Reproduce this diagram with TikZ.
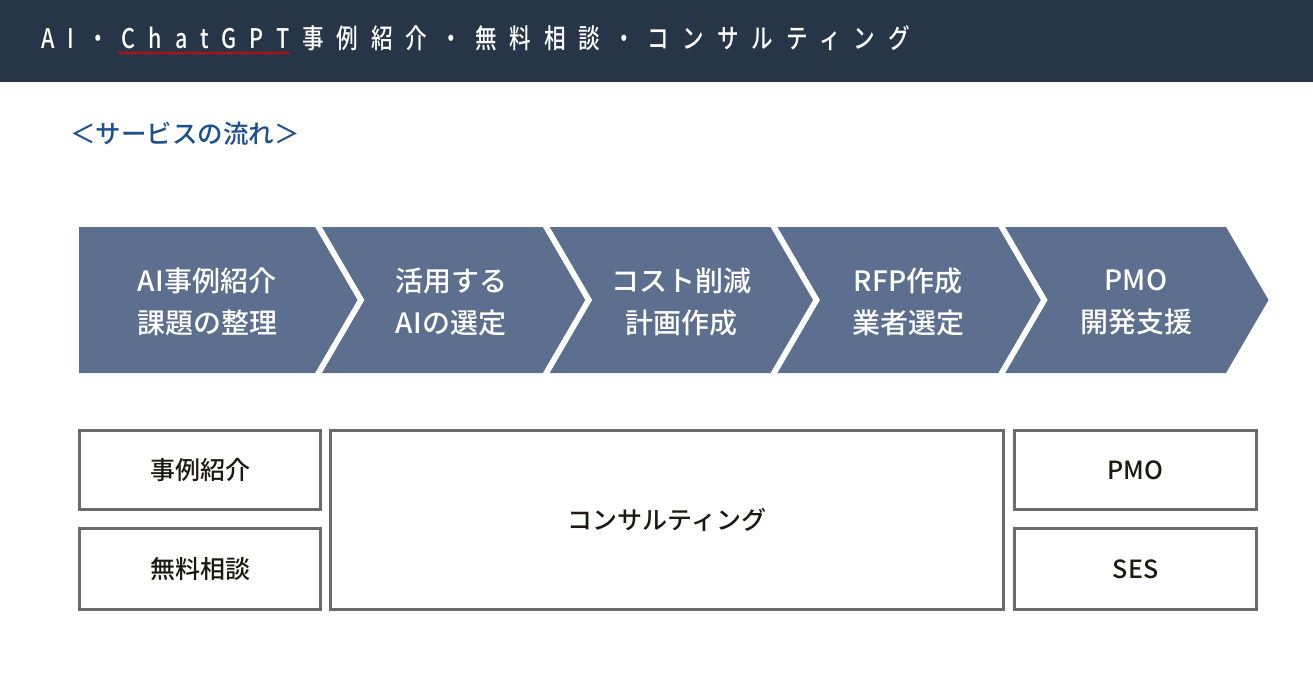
\documentclass[tikz,border=0pt]{standalone}
\usepackage{fontspec}
\setmainfont{Noto Sans CJK JP}[UprightFont=* Medium]
\newfontfamily\headfont[FakeStretch=0.8,LetterSpace=48,UprightFont=* Medium]{Noto Sans CJK JP}
\usetikzlibrary{positioning,decorations.pathmorphing}

\definecolor{headnavy}{HTML}{263548}
\definecolor{chevblue}{HTML}{5D6F8E}
\definecolor{titleblue}{HTML}{1B4F8F}
\definecolor{boxgray}{HTML}{6B6B6B}
\definecolor{boxtext}{HTML}{1C1A10}

\begin{document}
\begin{tikzpicture}[x=1pt, y=-1pt,
  stagetext/.style={align=center, text=white, font=\fontsize{28}{42}\selectfont, inner sep=0pt},
  svcbox/.style={draw=boxgray, line width=3pt, fill=white, text=boxtext, font=\fontsize{25}{30}\selectfont},
  chev/.style={fill=chevblue}
]
\useasboundingbox (0,0) rectangle (1313,693);

% header bar
\fill[headnavy] (0,0) rectangle (1313,82);
\node[anchor=west, inner sep=0pt, text=white, font=\headfont\fontsize{27}{30}\selectfont] (head) at (41,38.5)
  {AI・ChatGPT事例紹介・無料相談・コンサルティング};
\draw[red, line width=0.6pt, decorate, decoration={zigzag, amplitude=1.2pt, segment length=3pt}] (118,53) -- (290,53);

% subtitle
\node[anchor=west, inner sep=0pt, text=titleblue, font=\fontsize{25.5}{30}\selectfont] (flow) at (70,134) {＜サービスの流れ＞};

% chevrons
\fill[chev] (79,227) -- (315,227) -- (357.5,300) -- (315,373) -- (79,373) -- cycle;
\foreach \i in {1,...,4} {
  \pgfmathsetmacro{\lx}{315+227.75*(\i-1)+7}
  \pgfmathsetmacro{\rx}{315+227.75*\i}
  \fill[chev] (\lx,227) -- (\rx,227) -- ({\rx+42.5},300) -- (\rx,373) -- (\lx,373) -- ({\lx+42.5},300) -- cycle;
}

\node[stagetext] (s1) at (207,302) {AI事例紹介\\課題の整理};
\node[stagetext] (s2) at (451,302) {活用する\\AIの選定};
\node[stagetext] (s3) at (681,302) {コスト削減\\計画作成};
\node[stagetext] (s4) at (908,302) {RFP作成\\業者選定};
\node[stagetext] (s5) at (1136,302) {PMO\\開発支援};

% services
\node[svcbox, minimum width=241pt, minimum height=79pt] (case) at (200,470) {事例紹介};
\node[svcbox, minimum width=241pt, minimum height=81pt, below=16pt of case] (advice) {無料相談};
\node[svcbox, minimum width=673pt, minimum height=179pt] (consult) at (667,520) {コンサルティング};
\node[svcbox, minimum width=242pt, minimum height=79pt] (pmo) at (1135.5,470) {PMO};
\node[svcbox, minimum width=242pt, minimum height=81pt, below=16pt of pmo] (ses) {SES};

\end{tikzpicture}
\end{document}
